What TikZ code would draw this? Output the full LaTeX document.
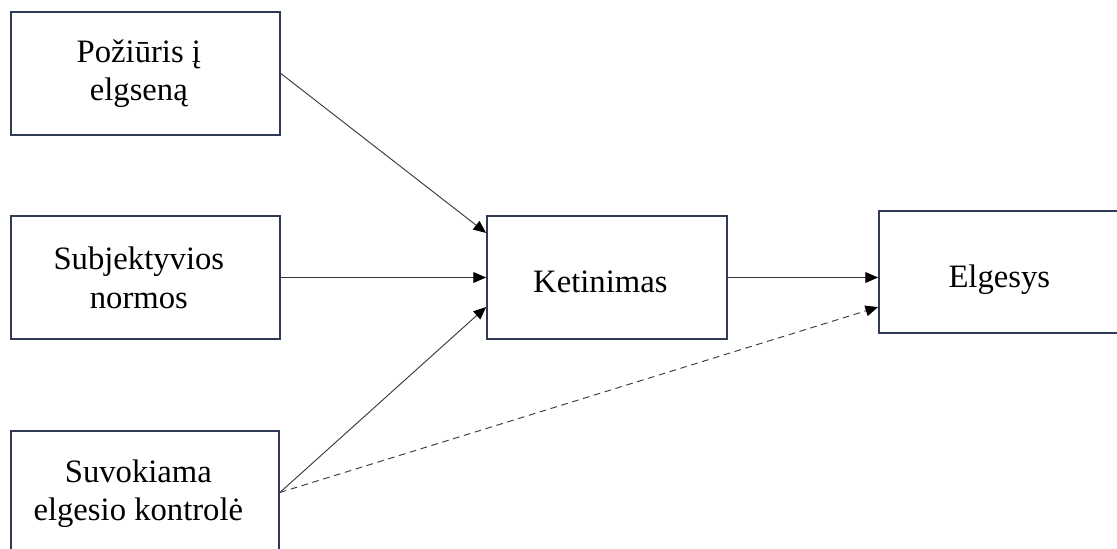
\documentclass[tikz,border=0pt]{standalone}
\usepackage{fontspec}
\setmainfont{Liberation Serif}
\usetikzlibrary{arrows.meta,calc}
\definecolor{boxline}{HTML}{2E3A56}
\definecolor{arrline}{HTML}{3A3A3A}
\tikzset{
  box/.style={draw=boxline, line width=1.3pt, rectangle, inner sep=0pt},
  lbl/.style={align=center, font=\fontsize{24.5}{29}\selectfont, inner sep=0pt},
  conn/.style={draw=arrline, line width=0.7pt, -{Triangle[length=9.5pt,width=8pt,fill=black,color=black]}},
  dconn/.style={conn, dash pattern=on 5pt off 3.5pt},
}
\begin{document}
\begin{tikzpicture}[x=0.75pt,y=-0.75pt]
\useasboundingbox (0,0) rectangle (1117,549);
\clip (0,0) rectangle (1117,549);
\fill[white] (0,0) rectangle (1117,549);

\node[box, minimum width=269*0.75pt, minimum height=123*0.75pt,
  label={[lbl, xshift=-5pt, yshift=0pt]center:Požiūris į\\elgseną}] (b1) at (145.5,73.5) {};
\node[box, minimum width=269*0.75pt, minimum height=123*0.75pt,
  label={[lbl, xshift=-5pt, yshift=0pt]center:Subjektyvios\\normos}] (b2) at (145.5,277.5) {};
\node[box, minimum width=268*0.75pt, minimum height=123*0.75pt,
  label={[lbl, xshift=-5pt, yshift=-1pt]center:Suvokiama\\elgesio kontrolė}] (b3) at (145,492.5) {};
\node[box, minimum width=240*0.75pt, minimum height=123*0.75pt,
  label={[lbl, xshift=-5pt, yshift=-3pt]center:Ketinimas}] (ket) at (607,277.5) {};
\node[box, minimum width=254*0.75pt, minimum height=122*0.75pt,
  label={[lbl, xshift=-5pt, yshift=-6pt]center:Elgesys}] (elg) at (1006,272) {};

\draw[conn] (b1.east) -- ([yshift=33.4pt]ket.west);
\draw[conn] (b2.east) -- (ket.west);
\draw[conn] (b3.east) -- ([yshift=-22.1pt]ket.west);
\draw[conn] (ket.east) -- (ket.east -| elg.west);
\draw[dconn] (b3.east) -- ([yshift=-26.3pt]elg.west);
\end{tikzpicture}
\end{document}
